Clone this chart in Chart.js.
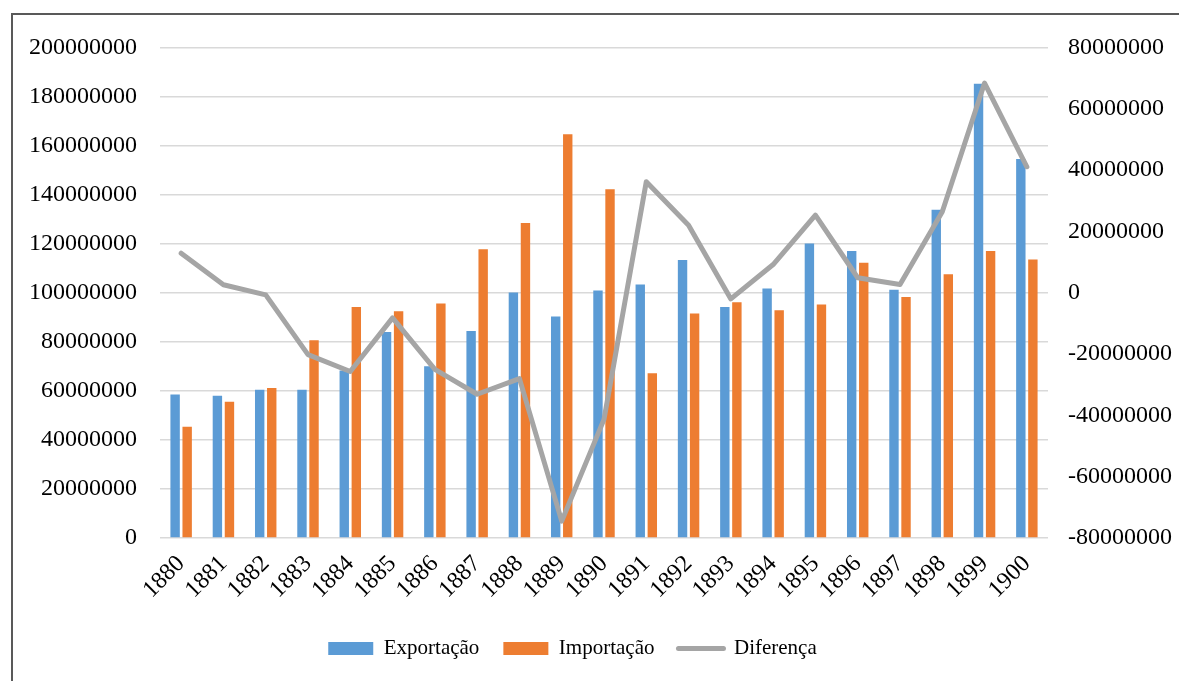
<!DOCTYPE html>
<html>
<head>
<meta charset="utf-8">
<title>Exportação e Importação 1880–1900</title>
<script src="https://cdn.jsdelivr.net/npm/chart.js@4"></script>
<style>
  html, body { margin: 0; padding: 0; background: #fff; overflow: hidden; }
  #wrap { position: relative; width: 1179px; height: 681px; }
  #wrap canvas { position: absolute; left: 0; top: 0; }
  #frame {
    position: absolute; left: 11px; top: 13px; width: 1220px; height: 720px;
    border-left: 2px solid #595959; border-top: 2px solid #595959;
    pointer-events: none;
  }
</style>
</head>
<body>
<div id="wrap">
  <canvas id="chart" width="1179" height="681"></canvas>
  <div id="frame"></div>
</div>
<script>
// Years on the category axis
const anos = ['1880','1881','1882','1883','1884','1885','1886','1887','1888','1889','1890',
              '1891','1892','1893','1894','1895','1896','1897','1898','1899','1900'];

// Annual values
const exportacao = [58500000, 58000000, 60400000, 60400000, 68300000, 84000000, 70000000,
                    84400000, 100100000, 90300000, 100900000, 103400000, 113400000, 94200000,
                    101700000, 120100000, 117000000, 101200000, 133800000, 185200000, 154500000];
const importacao = [45400000, 55600000, 61200000, 80600000, 94200000, 92500000, 95600000,
                    117700000, 128400000, 164600000, 142200000, 67200000, 91500000, 96100000,
                    92900000, 95200000, 112200000, 98300000, 107500000, 117000000, 113600000];
const diferenca  = [12900000, 2600000, -700000, -20200000, -25700000, -8200000, -25000000,
                    -33100000, -28000000, -74500000, -41300000, 36200000, 22000000, -2000000,
                    9200000, 25300000, 4900000, 2700000, 26400000, 68400000, 41100000];

// Axis ranges
const eixoEsq = { min: 0, max: 200000000, step: 20000000 };
const eixoDir = { min: -80000000, max: 80000000, step: 20000000 };

const FONTE = 'Liberation Serif, Times New Roman, serif';
const AZUL = '#5b9bd5', LARANJA = '#ed7d31', CINZA = '#a5a5a5';

// Nudges the centred legend row slightly to the left
const legendaDeslocada = {
  id: 'legendaDeslocada',
  afterLayout(chart) { if (chart.legend) chart.legend.right -= 34; }
};

new Chart(document.getElementById('chart'), {
  data: {
    labels: anos,
    datasets: [
      { type: 'bar', label: 'Exportação', data: exportacao, backgroundColor: AZUL,
        yAxisID: 'y', categoryPercentage: 0.57, barPercentage: 0.78, order: 1 },
      { type: 'bar', label: 'Importação', data: importacao, backgroundColor: LARANJA,
        yAxisID: 'y', categoryPercentage: 0.57, barPercentage: 0.78, order: 1 },
      { type: 'line', label: 'Diferença', data: diferenca, borderColor: CINZA,
        backgroundColor: CINZA, borderWidth: 5, pointRadius: 0, tension: 0,
        borderJoinStyle: 'round', borderCapStyle: 'round', yAxisID: 'y1', order: 0 }
    ]
  },
  options: {
    responsive: false,
    animation: false,
    devicePixelRatio: 1,
    layout: { padding: { top: 47.5, left: 0, right: 0, bottom: 12 } },
    plugins: {
      tooltip: { enabled: false },
      legend: {
        position: 'bottom',
        labels: {
          usePointStyle: true,
          pointStyleWidth: 45,
          boxHeight: 13,
          padding: 24,
          color: '#000',
          font: { family: FONTE, size: 21 },
          generateLabels(chart) {
            return chart.data.datasets.map((ds, i) => {
              const linha = ds.type === 'line';
              return {
                text: ds.label,
                datasetIndex: i,
                fillStyle: linha ? 'rgba(0,0,0,0)' : ds.backgroundColor,
                strokeStyle: linha ? ds.borderColor : ds.backgroundColor,
                lineWidth: linha ? 5 : 0,
                lineCap: 'round',
                pointStyle: linha ? 'line' : 'rect',
                hidden: false,
                fontColor: '#000'
              };
            });
          }
        }
      }
    },
    scales: {
      x: {
        grid: { display: false },
        border: { display: false },
        ticks: {
          autoSkip: false, maxRotation: 45, minRotation: 45, padding: 4,
          color: '#000', font: { family: FONTE, size: 24 }
        },
        afterFit(scale) { scale.height = 76; }
      },
      y: {
        position: 'left',
        min: eixoEsq.min, max: eixoEsq.max,
        grid: { color: '#d9d9d9', lineWidth: 1.5, drawTicks: false },
        border: { display: false },
        ticks: {
          stepSize: eixoEsq.step, padding: 23, color: '#000',
          font: { family: FONTE, size: 24 },
          callback: v => String(v)
        },
        afterFit(scale) { scale.width = 160; }
      },
      y1: {
        position: 'right',
        min: eixoDir.min, max: eixoDir.max,
        grid: { display: false, drawTicks: false },
        border: { display: false },
        ticks: {
          stepSize: eixoDir.step, padding: 20, color: '#000',
          font: { family: FONTE, size: 24 },
          callback: v => String(v)
        },
        afterFit(scale) { scale.width = 131; }
      }
    }
  },
  plugins: [legendaDeslocada]
});
</script>
</body>
</html>
